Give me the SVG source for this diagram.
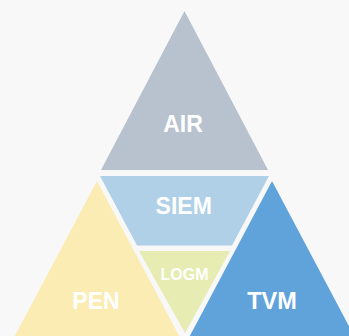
<svg xmlns="http://www.w3.org/2000/svg" width="349" height="336" viewBox="0 0 349 336">
<style>
.lbl{font-family:"Liberation Sans",Arial,sans-serif;font-weight:bold;fill:#ffffff;text-anchor:middle}
</style>
<rect x="0" y="0" width="349" height="336" fill="#f8f8f9"/>
<g id="connectors"></g>
<g id="air">
<polygon points="184.5,11 101,170 268,170" fill="#b8c2cf"/>
<text class="lbl" x="183" y="132" font-size="23">AIR</text>
</g>
<g id="siem">
<polygon points="100,176 269,176 232,245.5 137,245.5" fill="#afd0e6"/>
<text class="lbl" x="183.7" y="213.5" font-size="23">SIEM</text>
</g>
<g id="logm">
<polygon points="139,251 230,251 185,333" fill="#e7ecb2"/>
<text class="lbl" x="184.5" y="280" font-size="16">LOGM</text>
</g>
<g id="pen">
<polygon points="97,181 12.7,340 181.3,340" fill="#fbecb3"/>
<text class="lbl" x="96" y="309" font-size="23">PEN</text>
</g>
<g id="tvm">
<polygon points="272,181 187.7,340 356.3,340" fill="#5fa3da"/>
<text class="lbl" x="272" y="309" font-size="23.5">TVM</text>
</g>
</svg>
